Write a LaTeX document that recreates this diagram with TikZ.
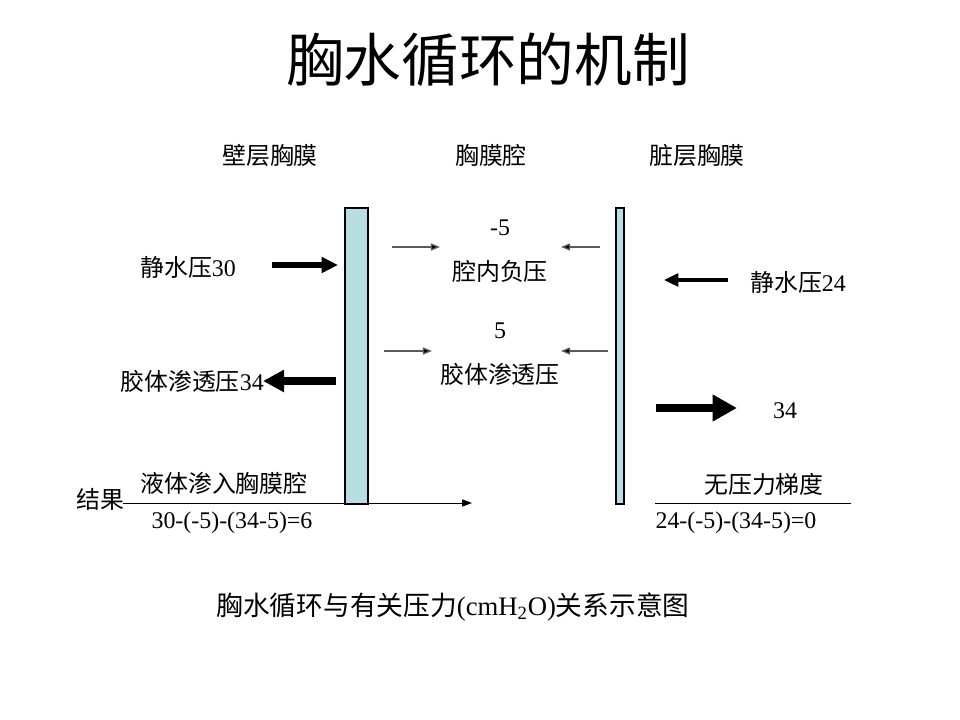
\documentclass[tikz,border=0pt]{standalone}
\usepackage{fontspec}
\setmainfont{Liberation Serif}
\newfontfamily\cjk{Noto Sans CJK SC}
\usepackage{tikz}
\usetikzlibrary{arrows.meta,positioning}

\definecolor{membrane}{RGB}{183,222,224}

\tikzset{
  lbl/.style={font=\fontsize{17}{20}\selectfont, inner sep=0pt},
  bar/.style={draw=black, fill=membrane, line width=0.8pt},
  push/.style={line width=#1, -{Triangle[length=2.4*#1+3pt, width=3*#1]}},
  thin arr/.style={draw=black!65, line width=0.9pt, -{Triangle[length=6.5pt, width=5pt, fill=black]}},
  result/.style={draw=black, line width=0.7pt}
}

\begin{document}
\begin{tikzpicture}[x=0.025cm, y=-0.025cm]

    \useasboundingbox (0,0) rectangle (960,720);

    % title and column heads
    \node[font=\fontsize{41}{45}\selectfont\cjk] (title) at (488,60) {胸水循环的机制};
    \node[lbl] (parietal) at (270,155) {\cjk 壁层胸膜};
    \node[lbl] (cavity)   at (491,155) {\cjk 胸膜腔};
    \node[lbl] (visceral) at (697,155) {\cjk 脏层胸膜};

    % the two membranes
    \draw[bar] (345,208) rectangle (368,504);
    \draw[bar] (616,208) rectangle (624,504);

    % parietal side
    \node[lbl] (hp30) at (188,267) {{\cjk 静水压}30};
    \coordinate (hp30a) at (272,265);
    \coordinate (hp30b) at (338,265);
    \draw[push=3.6pt] (hp30a) -- (hp30b);

    \node[lbl] (op34) at (192,381) {{\cjk 胶体渗透压}34};
    \coordinate (op34a) at (336,381);
    \coordinate (op34b) at (263,381);
    \draw[push=5pt] (op34a) -- (op34b);

    % pleural cavity
    \node[lbl] (neg)  at (500,228) {-5};
    \node[lbl] (negt) at (500,271) {\cjk 腔内负压};
    \coordinate (n1) at (392,247);
    \coordinate (n2) at (440,247);
    \coordinate (n3) at (600,247);
    \coordinate (n4) at (561,247);
    \draw[thin arr] (n1) -- (n2);
    \draw[thin arr] (n3) -- (n4);

    \node[lbl] (col)  at (500,331) {5};
    \node[lbl] (colt) at (500,374) {\cjk 胶体渗透压};
    \coordinate (c1) at (384,351);
    \coordinate (c2) at (432,351);
    \coordinate (c3) at (608,351);
    \coordinate (c4) at (561,351);
    \draw[thin arr] (c1) -- (c2);
    \draw[thin arr] (c3) -- (c4);

    % visceral side
    \node[lbl] (hp24) at (798,282) {{\cjk 静水压}24};
    \coordinate (hp24a) at (728,280);
    \coordinate (hp24b) at (664,280);
    \draw[push=3pt] (hp24a) -- (hp24b);

    \node[lbl] (op34r) at (785,411) {34};
    \coordinate (op34ra) at (656,408);
    \coordinate (op34rb) at (737,408);
    \draw[push=6pt] (op34ra) -- (op34rb);

    % results
    \node[lbl] (flow)   at (224,483) {\cjk 液体渗入胸膜腔};
    \node[lbl] (result) at (100,499) {\cjk 结果};
    \coordinate (r1) at (123,503);
    \coordinate (r2) at (472,503);
    \draw[result, -{Triangle[length=7pt, width=5pt]}] (r1) -- (r2);
    \node[lbl] (sumL) at (232,523) {30-(-5)-(34-5)=6};

    \node[lbl] (nograd) at (764,484) {\cjk 无压力梯度};
    \coordinate (g1) at (655,503);
    \coordinate (g2) at (851,503);
    \draw[result] (g1) -- (g2);
    \node[lbl] (sumR) at (736,523) {24-(-5)-(34-5)=0};

    % caption
    \node[font=\fontsize{19}{22}\selectfont, inner sep=0pt] (caption) at (453,607)
        {{\cjk 胸水循环与有关压力}(cmH\textsubscript{2}O){\cjk 关系示意图}};

\end{tikzpicture}
\end{document}
